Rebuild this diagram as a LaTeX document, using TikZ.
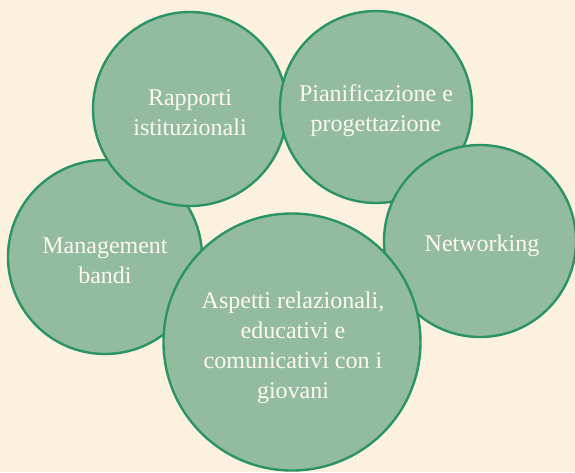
\documentclass[tikz,border=0pt]{standalone}
\usepackage{fontspec}
\setmainfont{Liberation Serif}
\usepackage{xcolor}
\definecolor{bg}{HTML}{FCF0DF}
\definecolor{bubfill}{HTML}{93BC9F}
\definecolor{bubline}{HTML}{2B9465}
\definecolor{bubtext}{HTML}{FDF8EE}
\begin{document}
\begin{tikzpicture}[x=1pt,y=-1pt,
  bub/.style={circle, fill=bubfill, draw=bubline, line width=2.4pt, inner sep=0pt},
  bubtxt/.style={text=bubtext, align=center, inner sep=0pt, font=\fontsize{24}{30}\selectfont}]
\fill[bg] (0,0) rectangle (575,472);
\useasboundingbox (0,0) rectangle (575,472);
\node[bub, minimum size=194pt] (man) at (105,257) {};
\node[bubtxt] (mant) at (105,261) {Management\\bandi};
\node[bub, minimum size=194pt] (rap) at (190,109) {};
\node[bubtxt] (rapt) at (190,113) {Rapporti\\istituzionali};
\node[bub, minimum size=192pt] (pia) at (376,107) {};
\node[bubtxt] (piat) at (376,111) {Pianificazione e\\progettazione};
\node[bub, minimum size=192pt] (net) at (480,241) {};
\node[bubtxt] (nett) at (482,246) {Networking};
\node[bub, minimum size=257pt] (asp) at (292,342) {};
\node[bubtxt] (aspt) at (293,348) {Aspetti relazionali,\\educativi e\\comunicativi con i\\giovani};
\end{tikzpicture}
\end{document}
